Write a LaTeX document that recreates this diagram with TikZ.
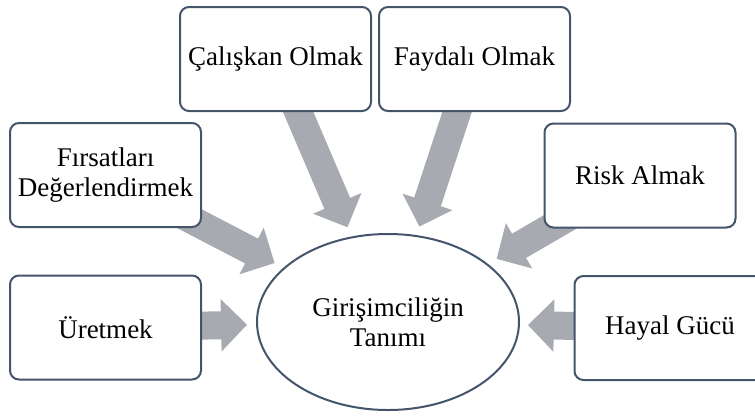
\documentclass[tikz,border=0pt]{standalone}
\usepackage{fontspec}
\setmainfont{Liberation Serif}
\usetikzlibrary{shapes.geometric,arrows.meta}
\definecolor{kenar}{HTML}{44546A}
\definecolor{okgri}{HTML}{A7AAB0}
\pgfdeclarelayer{back}
\pgfsetlayers{back,main}

\begin{document}
\begin{tikzpicture}[x=1pt,y=-1pt,
    every node/.style={font=\fontsize{27}{30}\selectfont},
    kutu/.style={draw=kenar,line width=2pt,fill=white,rounded corners=9pt,
      minimum width=191pt,minimum height=104pt,align=center,inner sep=1pt},
    bigarrow/.style={draw=okgri,line width=28pt,
      -{Triangle[width=51pt,length=26pt,fill=okgri]}}]
        \useasboundingbox (0,0) rectangle (755,416);

        \node[ellipse,draw=kenar,line width=2pt,fill=white,minimum width=262pt,
          minimum height=176pt,inner sep=0pt,align=center] (tanim) at (388,322)
          {Girişimciliğin\\Tanımı};

        \node[kutu] (calis) at (275.5,59) {Çalışkan Olmak};
        \node[kutu] (fayda) at (474.5,59) {Faydalı Olmak};
        \node[kutu] (firsat) at (105.5,175) {Fırsatları\\Değerlendirmek};
        \node[kutu] (risk) at (640,175.5) {Risk Almak};
        \node[kutu] (uret) at (105.5,327.5) {Üretmek};
        \node[kutu] (hayal) at (670,328) {Hayal Gücü};

        \begin{pgfonlayer}{back}
          \foreach \n/\s in {uret/9,hayal/8,firsat/10,calis/10,fayda/9,risk/10}
          {
            \draw[bigarrow,shorten >=\s pt] (\n.center) -- (tanim);
          }
        \end{pgfonlayer}
      \end{tikzpicture}
\end{document}
